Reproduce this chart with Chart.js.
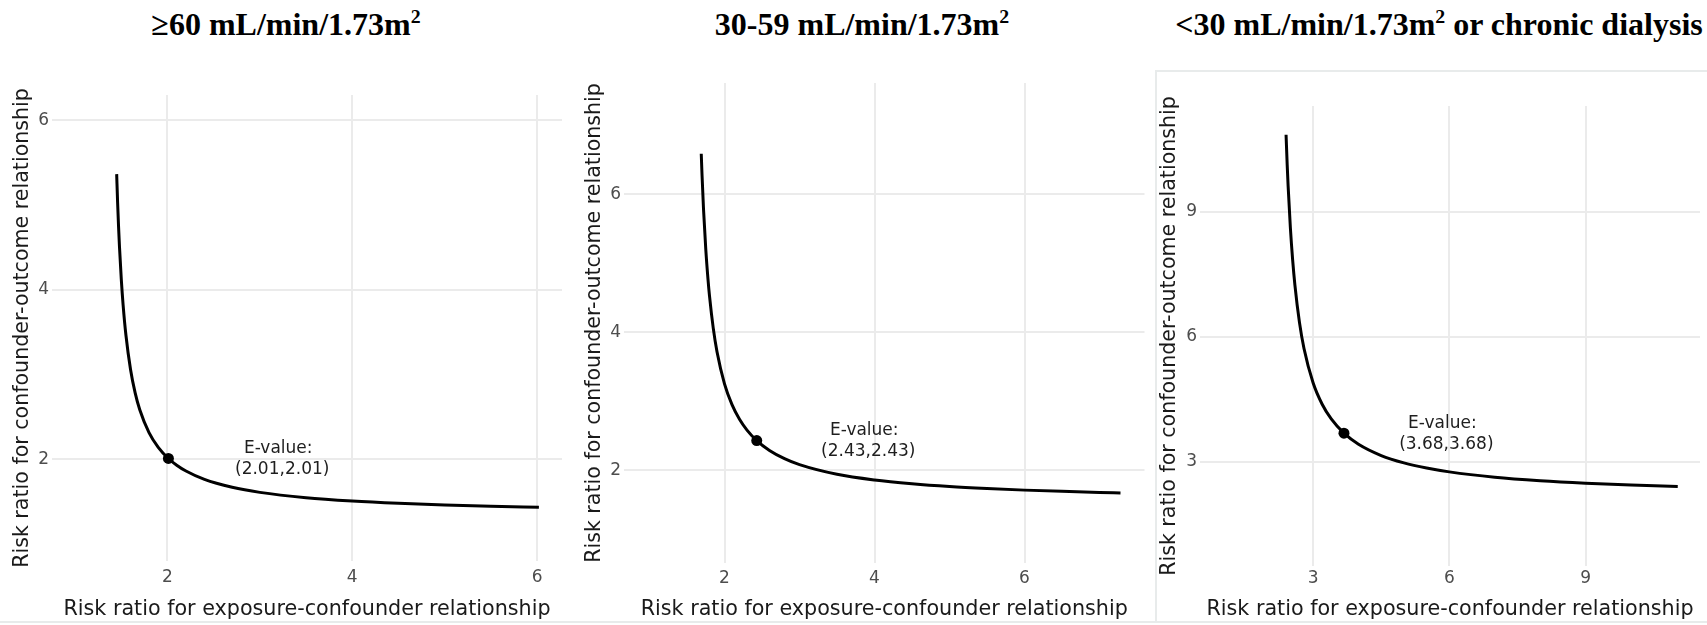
<!DOCTYPE html>
<html>
<head>
<meta charset="utf-8">
<script src="https://cdn.jsdelivr.net/npm/chart.js@4.4.1/dist/chart.umd.min.js"></script>
<style>
  html, body { margin:0; padding:0; background:#ffffff; }
  body { width:1707px; height:625px; position:relative; overflow:hidden; }
  canvas { position:absolute; top:0; }
  .ttl { position:absolute; top:6px; height:36px; line-height:36px; text-align:center;
         font-family:"Liberation Serif","Times New Roman",serif; font-weight:bold; font-size:32px;
         color:#000; white-space:nowrap; }
  .ttl sup { font-size:0.62em; line-height:0; vertical-align:0.62em; }
  .rule { position:absolute; background:#e8ebeb; }
</style>
</head>
<body>
<div class="ttl" style="left:86px; width:400px;">&ge;60 mL/min/1.73m<sup>2</sup></div>
<div class="ttl" style="left:662px; width:400px;">30-59 mL/min/1.73m<sup>2</sup></div>
<div class="ttl" style="left:1139px; width:600px;">&lt;30 mL/min/1.73m<sup>2</sup> or chronic dialysis</div>

<div class="rule" style="left:1155px; top:70px; width:552px; height:2px;"></div>
<div class="rule" style="left:1155px; top:70px; width:2px; height:552px;"></div>
<div class="rule" style="left:0px; top:621px; width:1707px; height:2px;"></div>

<canvas id="c1" width="570" height="625" style="left:0px;"></canvas>
<canvas id="c2" width="580" height="625" style="left:570px;"></canvas>
<canvas id="c3" width="557" height="625" style="left:1150px;"></canvas>

<script>
// ---------- data ----------
// Panel 1: eGFR >= 60
const p1X = [1.45, 1.46, 1.47, 1.48, 1.50, 1.52, 1.55, 1.60, 1.65, 1.70, 1.80, 1.90, 2.01, 2.10, 2.20, 2.40, 2.70, 3.00, 3.50, 4.00, 4.50, 5.00, 5.50, 6.02];
const p1Y = [5.366, 5.036, 4.756, 4.516, 4.124, 3.818, 3.467, 3.061, 2.785, 2.585, 2.316, 2.142, 2.010, 1.931, 1.862, 1.763, 1.670, 1.610, 1.547, 1.508, 1.481, 1.461, 1.446, 1.434];
// Panel 2: eGFR 30-59
const p2X = [1.69, 1.70, 1.72, 1.75, 1.78, 1.80, 1.85, 1.90, 2.00, 2.10, 2.20, 2.30, 2.43, 2.60, 2.80, 3.00, 3.50, 4.00, 4.50, 5.00, 5.50, 6.00, 6.50, 7.00, 7.28];
const p2Y = [6.589, 6.292, 5.791, 5.211, 4.769, 4.529, 4.061, 3.719, 3.253, 2.951, 2.739, 2.582, 2.430, 2.287, 2.168, 2.081, 1.941, 1.858, 1.803, 1.763, 1.734, 1.711, 1.693, 1.678, 1.671];
// Panel 3: eGFR < 30 or chronic dialysis
const p3X = [2.405, 2.43, 2.45, 2.50, 2.55, 2.60, 2.70, 2.80, 3.00, 3.20, 3.40, 3.68, 4.00, 4.50, 5.00, 5.50, 6.00, 7.00, 8.00, 9.00, 10.00, 11.03];
const p3Y = [10.851, 10.126, 9.627, 8.616, 7.845, 7.238, 6.343, 5.715, 4.891, 4.375, 4.022, 3.680, 3.415, 3.144, 2.967, 2.843, 2.751, 2.623, 2.539, 2.479, 2.435, 2.399];

// E-values (point on each curve)
const eValues = [2.01, 2.43, 3.68];
const eLabels = ["(2.01,2.01)", "(2.43,2.43)", "(3.68,3.68)"];
// annotation anchor (x) for the "E-value:" label
const annX = [3.22, 3.89, 5.89];

// tick labels
const p1Ticks = [2, 4, 6];
const p2Ticks = [2, 4, 6];
const p3Ticks = [3, 6, 9];

// axis ranges
const p1Range = { xmin: 0.75, xmax: 6.27, ymin: 0.80, ymax: 6.30 };
const p2Range = { xmin: 0.66, xmax: 7.60, ymin: 0.654, ymax: 7.616 };
const p3Range = { xmin: 0.51, xmax: 11.52, ymin: 0.49, ymax: 11.54 };

const xTitle = "Risk ratio for exposure-confounder relationship";
const yTitle = "Risk ratio for confounder-outcome relationship";
// ---------------------------------------------------

const FONT = "'DejaVu Sans', Verdana, sans-serif";

function pts(xs, ys) { return xs.map((x, i) => ({ x: x, y: ys[i] })); }

const annotationPlugin = {
  id: 'evalAnno',
  afterDatasetsDraw(chart, args, opts) {
    const ctx = chart.ctx;
    const xs = chart.scales.x, ys = chart.scales.y;
    const px = xs.getPixelForValue(opts.x);
    const py = ys.getPixelForValue(opts.y) + 1;
    ctx.save();
    ctx.fillStyle = '#1e1e1e';
    ctx.font = "17px " + FONT;
    ctx.textAlign = 'center';
    ctx.textBaseline = 'middle';
    ctx.fillText("E-value:", px - 2, py - 10.5);
    ctx.fillText(opts.label, px + 2, py + 10.5);
    ctx.restore();
  }
};

function makeChart(id, xs, ys, ev, ticks, range, geo, anno) {
  const ctx = document.getElementById(id).getContext('2d');
  return new Chart(ctx, {
    type: 'scatter',
    data: {
      datasets: [
        {
          data: pts(xs, ys),
          showLine: true,
          borderColor: '#000000',
          borderWidth: 3,
          pointRadius: 0,
          pointHoverRadius: 0,
          cubicInterpolationMode: 'monotone',
          fill: false,
          order: 2
        },
        {
          data: [{ x: ev, y: ev }],
          showLine: false,
          pointRadius: 5.5,
          pointBackgroundColor: '#000000',
          pointBorderColor: '#000000',
          pointBorderWidth: 0,
          order: 1
        }
      ]
    },
    options: {
      responsive: false,
      animation: false,
      devicePixelRatio: 1,
      layout: { padding: { left: 0, top: geo.top, right: geo.right, bottom: 0 } },
      plugins: {
        legend: { display: false },
        tooltip: { enabled: false },
        evalAnno: anno
      },
      scales: {
        x: {
          type: 'linear',
          position: 'bottom',
          min: range.xmin, max: range.xmax,
          afterFit: s => { s.height = geo.xh; },
          afterBuildTicks: s => { s.ticks = ticks.map(v => ({ value: v })); },
          grid: { color: '#EBEBEB', lineWidth: 2, drawTicks: false },
          border: { display: false },
          ticks: { font: { family: FONT, size: 17 }, color: '#4D4D4D', padding: geo.xtp, maxRotation: 0 },
          title: { display: true, text: xTitle, color: '#1a1a1a',
                   font: { family: FONT, size: 20.7 }, padding: { top: 0, bottom: 3 } }
        },
        y: {
          type: 'linear',
          min: range.ymin, max: range.ymax,
          afterFit: s => { s.width = geo.yw; },
          afterBuildTicks: s => { s.ticks = ticks.map(v => ({ value: v })); },
          grid: { color: '#EBEBEB', lineWidth: 2, drawTicks: false },
          border: { display: false },
          ticks: { font: { family: FONT, size: 17 }, color: '#4D4D4D', padding: 3 },
          title: { display: true, text: yTitle, color: '#1a1a1a',
                   font: { family: FONT, size: 20.6 }, padding: { top: geo.ytp, bottom: 0 } }
        }
      }
    },
    plugins: [annotationPlugin]
  });
}

makeChart('c1', p1X, p1Y, eValues[0], p1Ticks, p1Range,
  { top: 95, right: 8, xh: 64, yw: 52, ytp: 10, xtp: 6 },
  { x: annX[0], y: eValues[0], label: eLabels[0] });
makeChart('c2', p2X, p2Y, eValues[1], p2Ticks, p2Range,
  { top: 83, right: 3, xh: 62, yw: 54, ytp: 12, xtp: 5 },
  { x: annX[1], y: eValues[1], label: eLabels[1] });
makeChart('c3', p3X, p3Y, eValues[2], p3Ticks, p3Range,
  { top: 106, right: 7, xh: 59, yw: 50, ytp: 7, xtp: 2 },
  { x: annX[2], y: eValues[2], label: eLabels[2] });
</script>
</body>
</html>
